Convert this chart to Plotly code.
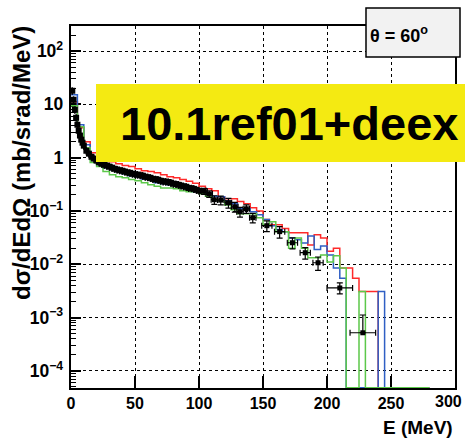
import plotly.graph_objects as go

# ---------------- data ----------------
# histogram bin edges (MeV), 5 MeV bins from 0 to 280
bin_edges = list(range(0, 285, 5))

red_vals = [11.2, 3.65, 2.0, 1.24, 1.04, 0.92, 0.84, 0.77, 0.71, 0.68,
            0.62, 0.57, 0.55, 0.52, 0.48, 0.44, 0.42, 0.39, 0.36, 0.33,
            0.29, 0.26, 0.24, 0.185, 0.17, 0.17, 0.15, 0.137, 0.115, 0.10,
            0.069, 0.055, 0.055, 0.047, 0.039, 0.039, 0.039, 0.023, 0.036, 0.031,
            0.0175, 0.020, 0.0085, 0.0085, 0.0055, 0.0031, 0.0031, 0.0031, 0, 0,
            0, 0, 0, 0, 0, 0]

blue_vals = [15.2, 4.15, 1.75, 0.92, 0.74, 0.65, 0.60, 0.55, 0.50, 0.46,
             0.44, 0.40, 0.39, 0.34, 0.325, 0.31, 0.30, 0.27, 0.25, 0.23,
             0.24, 0.22, 0.19, 0.185, 0.156, 0.137, 0.11, 0.11, 0.097, 0.085,
             0.069, 0.053, 0.045, 0.041, 0.031, 0.029, 0.025, 0.034, 0.019, 0.022,
             0.015, 0.0085, 0.0055, 0, 0, 0, 0, 0, 0.0031, 0,
             0, 0, 0, 0, 0, 0]

green_vals = [9.4, 3.8, 1.54, 0.81, 0.68, 0.55, 0.48, 0.44, 0.42, 0.39,
              0.37, 0.34, 0.31, 0.29, 0.27, 0.27, 0.26, 0.24, 0.23, 0.25,
              0.21, 0.19, 0.163, 0.156, 0.13, 0.106, 0.089, 0.089, 0.089, 0.075,
              0.055, 0.063, 0.041, 0.041, 0.020, 0.031, 0.020, 0.0133, 0.0133, 0.015,
              0.011, 0.0145, 0.0085, 0, 0, 0.0031, 0, 0, 0, 0,
              0, 0, 0, 0, 0, 0]

# experimental data: dense low-energy part
data_E_dense = [1, 2, 3, 4, 5, 6, 7, 8, 9, 10,
                12, 14, 16, 18, 20, 22, 24, 26, 28, 30,
                32, 34, 36, 38, 40, 42, 44, 46, 48, 50,
                52, 54, 56, 58, 60, 62, 64, 66, 68, 70,
                72, 74, 76, 78, 80, 82, 84, 86, 88, 90,
                92, 94, 96, 98, 100]
data_v_dense = [18, 12.2, 7.9, 5.6, 4.15, 3.2, 2.6, 2.18, 1.91, 1.68,
                1.35, 1.19, 1.04, 0.96, 0.88, 0.82, 0.77, 0.74, 0.71, 0.68,
                0.65, 0.62, 0.60, 0.58, 0.57, 0.55, 0.53, 0.52, 0.50, 0.49,
                0.48, 0.47, 0.46, 0.44, 0.43, 0.42, 0.40, 0.395, 0.387, 0.37,
                0.36, 0.355, 0.35, 0.34, 0.325, 0.32, 0.31, 0.30, 0.29, 0.285,
                0.27, 0.268, 0.26, 0.25, 0.24]

# experimental data: sparse high-energy part
data_E_sparse = [104, 108, 112, 117, 123, 128, 132, 137, 142, 153, 163, 173, 183, 193, 210, 228]
data_v_sparse = [0.235, 0.21, 0.163, 0.16, 0.143, 0.12, 0.097, 0.11, 0.075,
                 0.053, 0.041, 0.0254, 0.0165, 0.0107, 0.0036, 0.00052]
data_xerr_sparse = [2.5, 2.5, 2.5, 2.5, 2.5, 2.5, 2.5, 2.5, 2.5, 4, 4, 4, 4, 4, 10, 10]
data_yerr_up = [0.03, 0.03, 0.03, 0.03, 0.03, 0.025, 0.02, 0.02, 0.015,
                0.012, 0.01, 0.006, 0.004, 0.003, 0.0009, 0.0006]
data_yerr_dn = [0.03, 0.03, 0.03, 0.03, 0.03, 0.025, 0.02, 0.02, 0.015,
                0.012, 0.01, 0.006, 0.004, 0.003, 0.0008, 0.0]

x_ticks = [0, 50, 100, 150, 200, 250, 300]
x_tick_text = ["0", "50", "100", "150", "200", "250", ""]   # last label drawn flush to the edge below
x_last_label = "300"

# ---------------- geometry helpers ----------------
W, H = 465, 441
L, R, T, B = 71, 10, 26, 53
pw, ph = W - L - R, H - T - B
YMIN, YMAX = -4.32, 2.47
floor = 10 ** (YMIN + 0.004)


def px(x):
    return (x - L) / pw


def py(y):
    return (H - B - y) / ph


def hist_trace(vals, color):
    yv = [v if v > 0 else floor for v in vals]
    yv = yv + [yv[-1]]
    return go.Scatter(x=bin_edges, y=yv, mode="lines", line=dict(color=color, width=1.5, shape="hv"),
                      showlegend=False, hoverinfo="skip")


fig = go.Figure()
fig.add_trace(hist_trace(red_vals, "#ff2a2a"))
fig.add_trace(hist_trace(blue_vals, "#2f5fc4"))
fig.add_trace(hist_trace(green_vals, "#5cc84a"))

fig.add_trace(go.Scatter(
    x=data_E_dense, y=data_v_dense, mode="markers",
    marker=dict(symbol="square", size=6, color="black"),
    error_y=dict(type="percent", value=16, color="black", thickness=1.5, width=0),
    showlegend=False))

fig.add_trace(go.Scatter(
    x=data_E_sparse, y=data_v_sparse, mode="markers",
    marker=dict(symbol="square", size=5, color="black"),
    error_x=dict(type="data", array=data_xerr_sparse, color="black", thickness=1.2, width=3),
    error_y=dict(type="data", array=data_yerr_up, arrayminus=data_yerr_dn, symmetric=False,
                 color="black", thickness=1.2, width=3),
    showlegend=False))

font_family = "Liberation Sans, Arial, sans-serif"

fig.update_layout(
    width=W, height=H, autosize=False,
    margin=dict(l=L, r=R, t=T, b=B),
    paper_bgcolor="white", plot_bgcolor="white",
    font=dict(family=font_family, color="black"),
    xaxis=dict(range=[0, 300], tickvals=x_ticks, ticktext=x_tick_text, ticks="inside", ticklen=12,
               tickwidth=1.5, tickcolor="black", showline=True, linewidth=2, linecolor="black", mirror=True,
               showgrid=True, gridcolor="black", griddash="dot", gridwidth=1, zeroline=False,
               tickfont=dict(size=16, weight="bold"), layer="below traces", automargin=False),
    yaxis=dict(type="log", range=[YMIN, YMAX], dtick=1, exponentformat="power",
               ticks="inside", ticklen=10, tickwidth=1.5, tickcolor="black",
               minor=dict(ticks="inside", ticklen=5, tickwidth=1, tickcolor="black", dtick="D1", showgrid=False),
               showline=True, linewidth=2, linecolor="black", mirror=True,
               showgrid=True, gridcolor="black", griddash="dot", gridwidth=1, zeroline=False,
               tickfont=dict(size=14, weight="bold"), layer="below traces",
               ticklabelstandoff=3, automargin=False),
    shapes=[
        dict(type="rect", xref="paper", yref="paper", x0=px(96), x1=px(466), y0=py(162), y1=py(84),
             fillcolor="#f4ea12", line=dict(width=0), layer="above"),
        dict(type="rect", xref="paper", yref="paper", x0=px(366), x1=px(460), y0=py(57), y1=py(8),
             fillcolor="#f2f2f2", line=dict(color="black", width=1.5), layer="above"),
    ],
    annotations=[
        dict(text="10.1ref01+deex", xref="paper", yref="paper", x=px(289), y=py(124),
             xanchor="center", yanchor="middle", showarrow=False,
             font=dict(size=47, weight="bold", color="black", family=font_family)),
        dict(text="θ = 60<sup>o</sup>", xref="paper", yref="paper", x=px(368), y=py(34),
             xanchor="left", yanchor="middle", showarrow=False,
             font=dict(size=18, weight="bold", color="black", family=font_family)),
        dict(text="dσ/dEdΩ (mb/srad/MeV)", xref="paper", yref="paper", x=px(22), y=py(24),
             xanchor="center", yanchor="top", textangle=-90, showarrow=False,
             font=dict(size=24, weight="bold", color="black", family=font_family)),
        dict(text="E (MeV)", xref="paper", yref="paper", x=px(455), y=py(427),
             xanchor="right", yanchor="middle", showarrow=False,
             font=dict(size=19, weight="bold", color="black", family=font_family)),
        dict(text=x_last_label, xref="paper", yref="paper", x=px(464), y=py(401),
             xanchor="right", yanchor="middle", showarrow=False,
             font=dict(size=16, weight="bold", color="black", family=font_family)),
    ],
)

fig.write_html("out.html", config={"responsive": False})
